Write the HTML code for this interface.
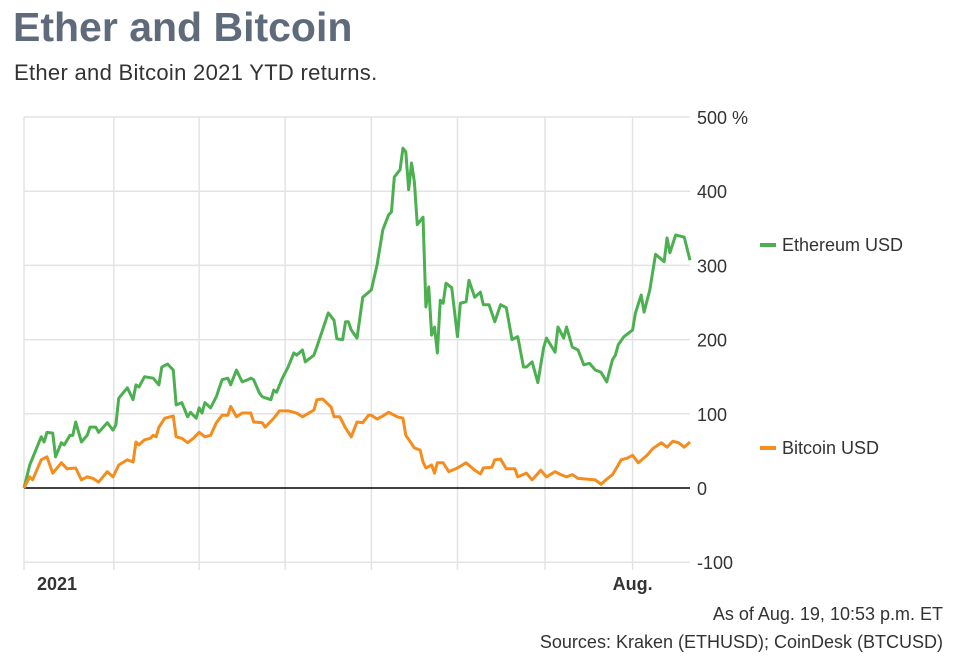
<!DOCTYPE html>
<html><head><meta charset="utf-8"><style>
body{margin:0;background:#fff;width:955px;height:663px;overflow:hidden;font-family:"Liberation Sans",sans-serif}
#title{position:absolute;left:13px;top:4px;font-size:41px;font-weight:bold;color:#5f6b7a;letter-spacing:0px}
#sub{position:absolute;left:14px;top:60px;font-size:22px;color:#333;letter-spacing:0.3px}
svg{position:absolute;left:0;top:0}
</style></head><body>
<div id="title">Ether and Bitcoin</div>
<div id="sub">Ether and Bitcoin 2021 YTD returns.</div>
<svg id="chart" width="955" height="663"></svg>
<script>
const ethDays=[0,2,6,7,8,10,11,13,14,16,17,18,20,22,23,25,26,29,31,32,33,36,38,39,40,42,45,47,48,50,52,53,55,57,58,60,61,62,63,65,67,69,71,72,74,76,78,79,80,82,83,86,87,88,90,92,94,95,97,98,101,102,104,106,108,109,111,112,113,114,116,118,121,123,125,127,128,129,131,132,133,134,135,136,137,139,140,141,142,143,144,145,146,147,149,151,152,154,155,157,159,160,162,164,166,168,170,172,174,175,177,179,181,182,185,186,188,189,191,193,195,197,199,201,203,205,206,207,209,212,213,215,216,218,219,220,223,224,225,227,230,232];
const ethVals=[0,31,69,62,75,74,42,61,58,71,71,89,62,71,82,82,75,88,78,85,121,135,119,139,136,150,148,139,163,167,159,112,115,96,102,94,108,101,115,108,123,146,148,139,159,143,146,148,146,128,123,119,132,129,148,163,182,179,186,170,179,190,213,236,226,201,200,224,224,213,202,257,267,301,348,368,372,419,429,458,453,402,438,412,355,365,244,271,206,217,182,253,249,276,270,204,249,251,280,257,264,247,247,224,247,243,200,204,163,163,170,142,189,202,183,217,202,217,190,186,166,168,159,156,143,173,179,193,204,213,236,260,237,267,291,315,305,337,317,341,338,307,334];
const btcDays=[0,2,3,6,8,10,13,15,18,20,22,24,26,29,31,33,36,38,39,40,42,44,45,46,47,49,52,53,55,57,59,61,63,65,67,69,71,72,74,76,79,80,83,84,87,89,92,95,97,101,102,104,107,108,110,112,114,116,118,120,121,123,125,127,130,132,133,136,138,139,140,142,143,144,146,148,151,154,157,159,160,163,164,166,168,171,172,175,177,180,182,185,187,189,191,193,196,199,201,203,205,207,208,210,212,214,217,219,222,224,226,228,230,232];
const btcVals=[0,15,11,38,42,20,34,26,27,11,15,13,8,22,15,31,38,35,62,58,65,67,71,69,82,94,97,69,67,61,67,75,69,71,88,98,98,110,96,101,101,89,88,82,94,104,104,101,96,105,119,120,109,96,96,81,69,89,88,98,98,93,97,102,96,94,71,54,51,35,27,31,20,34,34,22,27,34,24,19,27,28,38,39,26,26,15,20,11,24,15,22,18,15,18,13,12,11,5,12,18,31,38,40,44,34,44,53,61,55,63,61,55,62];
const yTicks=[500,400,300,200,100,0,-100];
const yTickLabels=["500 %","400","300","200","100","0","-100"];
const xGridDays=[0,31.3,61,91,121,151,181.5,212];
const xLabels=[["2021",0],["Aug.",212]];
const NS="http://www.w3.org/2000/svg",svg=document.getElementById('chart');
const x=d=>24+d*(666/232), y=v=>488-v*0.742;
function mk(t,a){const e=document.createElementNS(NS,t);for(const k in a)e.setAttribute(k,a[k]);svg.appendChild(e);return e;}
yTicks.forEach((t,i)=>{
 if(t!==0){const g=mk('line',{x1:24,x2:690,y1:y(t),y2:y(t),stroke:'#e3e3e3','stroke-width':1.5});
 
 }
 const l=mk('text',{x:697,y:y(t)+7,'font-size':18,fill:'#333'});l.textContent=yTickLabels[i];
 
 
});
xGridDays.forEach(d=>{const g=mk('line',{x1:x(d),x2:x(d),y1:117,y2:570,stroke:'#e3e3e3','stroke-width':1.5});
 
 });
const z=mk('line',{x1:24,x2:690,y1:y(0),y2:y(0),stroke:'#000','stroke-width':1.5});


xLabels.forEach(([s,d])=>{const t=mk('text',{x:x(d)-(s==="2021"?-13:20),y:590,'font-size':18,'font-weight':'bold',fill:'#333'});t.textContent=s;
 
 });
function line(days,vals,col,name){const p=mk('polyline',{points:days.map((d,i)=>x(d)+','+y(vals[i])).join(' '),fill:'none',stroke:col,'stroke-width':3,'stroke-linejoin':'round'});
 
 }
line(ethDays,ethVals,'#4cb050','ethereum-line');
line(btcDays,btcVals,'#f58c1e','bitcoin-line');
[["Ethereum USD",245,'#4cb050','legend-ethereum'],["Bitcoin USD",448,'#f58c1e','legend-bitcoin']].forEach(([s,yy,c,n])=>{
 const m=mk('line',{x1:760,x2:776,y1:yy,y2:yy,stroke:c,'stroke-width':4});
 
 
 const t=mk('text',{x:782,y:yy+6,'font-size':18,fill:'#333'});t.textContent=s;
 
 });
[["As of Aug. 19, 10:53 p.m. ET",620],["Sources: Kraken (ETHUSD); CoinDesk (BTCUSD)",648]].forEach(([s,yy])=>{
 const t=mk('text',{x:943,y:yy,'font-size':18,fill:'#333','text-anchor':'end'});t.textContent=s;
 
 });
</script>
</body></html>
